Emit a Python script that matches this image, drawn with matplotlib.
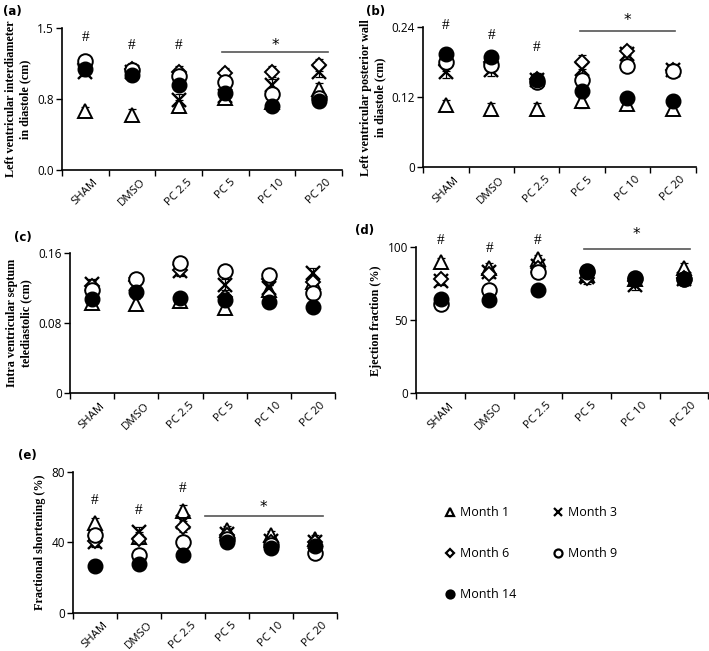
#Plotting Libraries
import matplotlib
matplotlib.use("Agg")
import matplotlib.pyplot as plt
from matplotlib.lines import Line2D
import numpy as np

#Data
groups = ["SHAM", "DMSO", "PC 2.5", "PC 5", "PC 10", "PC 20"]
months = ["Month 1", "Month 3", "Month 6", "Month 9", "Month 14"]

#(a) left ventricular interdiameter in diastole
lvid_m1 = [0.62, 0.58, 0.68, 0.76, 0.72, 0.86]
lvid_m3 = [1.04, 1.03, 0.74, 0.78, 0.90, 1.04]
lvid_m6 = [1.12, 1.07, 1.04, 1.02, 1.04, 1.11]
lvid_m9 = [1.15, 1.06, 0.99, 0.93, 0.80, 0.76]
lvid_m14 = [1.07, 1.00, 0.90, 0.81, 0.68, 0.73]
lvid_err = [0.05, 0.06, 0.06, 0.06, 0.06, 0.06]

#(b) left ventricular posterior wall in diastole
lvpw_m1 = [0.106, 0.100, 0.100, 0.114, 0.109, 0.100]
lvpw_m3 = [0.163, 0.166, 0.150, 0.169, 0.194, 0.166]
lvpw_m6 = [0.175, 0.180, 0.152, 0.180, 0.200, 0.167]
lvpw_m9 = [0.180, 0.175, 0.146, 0.150, 0.174, 0.165]
lvpw_m14 = [0.194, 0.190, 0.149, 0.130, 0.119, 0.114]
lvpw_err = [0.010, 0.010, 0.010, 0.012, 0.008, 0.010]

#(c) intra ventricular septum telediastolic
ivs_m1 = [0.103, 0.102, 0.105, 0.097, 0.118, 0.127]
ivs_m3 = [0.125, 0.125, 0.140, 0.124, 0.120, 0.137]
ivs_m6 = [0.122, 0.128, 0.141, 0.110, 0.130, 0.127]
ivs_m9 = [0.118, 0.131, 0.149, 0.140, 0.135, 0.114]
ivs_m14 = [0.108, 0.116, 0.109, 0.106, 0.104, 0.099]
ivs_err = [0.006, 0.006, 0.006, 0.006, 0.006, 0.006]

#(d) ejection fraction
ef_m1 = [89.8, 86.0, 92.0, 81.0, 78.0, 86.0]
ef_m3 = [77.0, 83.0, 87.5, 80.0, 74.0, 78.0]
ef_m6 = [78.0, 82.0, 86.0, 79.0, 77.0, 79.0]
ef_m9 = [61.4, 70.5, 83.0, 84.0, 79.0, 78.0]
ef_m14 = [64.8, 64.0, 70.5, 83.0, 78.0, 78.0]
ef_err = [3.0, 3.0, 3.0, 4.0, 3.0, 3.0]

#(e) fractional shortening
fs_m1 = [50.8, 43.0, 58.0, 47.0, 44.0, 42.0]
fs_m3 = [40.5, 46.0, 51.8, 45.0, 41.0, 40.0]
fs_m6 = [41.0, 42.0, 49.0, 44.0, 40.0, 40.0]
fs_m9 = [44.0, 33.0, 40.0, 42.0, 38.6, 34.0]
fs_m14 = [26.9, 28.0, 33.0, 40.5, 37.0, 38.0]
fs_err = [3.0, 3.0, 3.0, 2.5, 2.5, 2.5]

#Significance marks
lvid_hash = [1.40, 1.31, 1.31]
lvpw_hash = [0.243, 0.226, 0.206]
ef_hash = [104.5, 99.0, 104.5]
fs_hash = [64.0, 58.4, 70.6]

#marker styles per month
styles = [
    dict(marker="^", ms=10.5, mfc="white", mec="black", mew=1.4),
    dict(marker="x", ms=9.5, mfc="black", mec="black", mew=1.7),
    dict(marker="D", ms=7.5, mfc="white", mec="black", mew=1.4),
    dict(marker="o", ms=10.5, mfc="white", mec="black", mew=1.4),
    dict(marker="o", ms=10.5, mfc="black", mec="black", mew=1.0),
]

tick_font = "Open Sans"
label_font = "Liberation Serif"

fig = plt.figure(figsize=(7.09, 6.51), dpi=100)

def draw_panel(rect, series, err, ylim, yticks, yticklabels, ylabel, letter,
               hashes=None, star=None):
    ax = fig.add_axes(rect)
    x = np.arange(1, len(groups) + 1)
    for vals, st in zip(series, styles):
        ax.errorbar(x, vals, yerr=err, fmt="none", ecolor="black",
                    elinewidth=0.9, capsize=3, capthick=0.9, zorder=2)
        ax.plot(x, vals, linestyle="none", zorder=3, **st)
    ax.set_xlim(0.5, len(groups) + 0.5)
    ax.set_ylim(*ylim)
    ax.set_yticks(yticks)
    ax.set_yticklabels(yticklabels, fontfamily=tick_font, fontsize=8.5)
    ax.set_xticks(x)
    ax.set_xticklabels(groups, rotation=45, ha="center",
                       fontfamily=tick_font, fontsize=8.2)
    ax.tick_params(axis="x", which="major", length=0, pad=5)
    ax.set_xticks(np.arange(0.5, len(groups) + 1), minor=True)
    ax.tick_params(axis="x", which="minor", length=4, width=1, direction="out")
    ax.tick_params(axis="y", length=4, width=1, direction="out", pad=2)
    for s in ["top", "right"]:
        ax.spines[s].set_visible(False)
    for s in ["left", "bottom"]:
        ax.spines[s].set_linewidth(1.2)
    ax.set_ylabel(ylabel, fontfamily=label_font, fontweight="bold",
                  fontsize=8.7, linespacing=1.25)
    ax.text(-0.21, 1.16, letter, transform=ax.transAxes, fontsize=8.5,
            fontweight="bold", fontfamily="DejaVu Sans", va="top")
    if hashes is not None:
        for i, h in enumerate(hashes):
            ax.text(i + 1, h, "#", ha="center", va="center",
                    fontfamily="Liberation Serif", fontsize=11)
    if star is not None:
        x0, x1, yl, ys = star
        ax.plot([x0, x1], [yl, yl], color="#555555", lw=1.2, clip_on=False)
        ax.text((x0 + x1) / 2, ys, "*", ha="center", va="center",
                fontsize=11, fontfamily="DejaVu Sans")
    return ax

draw_panel([0.0874, 0.739, 0.395, 0.218],
           [lvid_m1, lvid_m3, lvid_m6, lvid_m9, lvid_m14], lvid_err,
           (0, 1.5), [0, 0.75, 1.5], ["0.0", "0.8", "1.5"],
           "Left ventricular interdiameter\nin diastole (cm)", "(a)",
           hashes=lvid_hash, star=(3.93, 6.21, 1.25, 1.31))

draw_panel([0.597, 0.743, 0.384, 0.215],
           [lvpw_m1, lvpw_m3, lvpw_m6, lvpw_m9, lvpw_m14], lvpw_err,
           (0, 0.24), [0, 0.12, 0.24], ["0", "0.12", "0.24"],
           "Left ventricular posterior wall\nin diastole (cm)", "(b)",
           hashes=lvpw_hash, star=(3.96, 6.05, 0.234, 0.251))

draw_panel([0.0987, 0.396, 0.374, 0.215],
           [ivs_m1, ivs_m3, ivs_m6, ivs_m9, ivs_m14], ivs_err,
           (0, 0.16), [0, 0.08, 0.16], ["0", "0.08", "0.16"],
           "Intra ventricular septum\ntelediastolic (cm)", "(c)")

draw_panel([0.587, 0.396, 0.412, 0.224],
           [ef_m1, ef_m3, ef_m6, ef_m9, ef_m14], ef_err,
           (0, 100), [0, 50, 100], ["0", "50", "100"],
           "Ejection fraction (%)", "(d)",
           hashes=ef_hash, star=(3.94, 6.12, 99.0, 109.0))

draw_panel([0.103, 0.0584, 0.372, 0.2166],
           [fs_m1, fs_m3, fs_m6, fs_m9, fs_m14], fs_err,
           (0, 80), [0, 40, 80], ["0", "40", "80"],
           "Fractional shortening (%)", "(e)",
           hashes=fs_hash, star=(3.5, 6.18, 55.2, 60.0))

#Legend (row order: M1 M3 / M6 M9 / M14)
handles = []
for st in styles:
    s = dict(st)
    s["ms"] = s["ms"] * 0.55
    s["mew"] = 1.6
    handles.append(Line2D([], [], linestyle="none", **s))
order = [0, 2, 4, 1, 3]
leg = fig.legend([handles[i] for i in order], [months[i] for i in order],
                 ncol=2, loc="upper left", bbox_to_anchor=(0.61, 0.24),
                 frameon=False, labelspacing=2.25, columnspacing=2.8,
                 handletextpad=0.3, handlelength=1.0,
                 prop={"family": tick_font, "size": 9})

plt.savefig("out.png", dpi=100)
plt.close()
